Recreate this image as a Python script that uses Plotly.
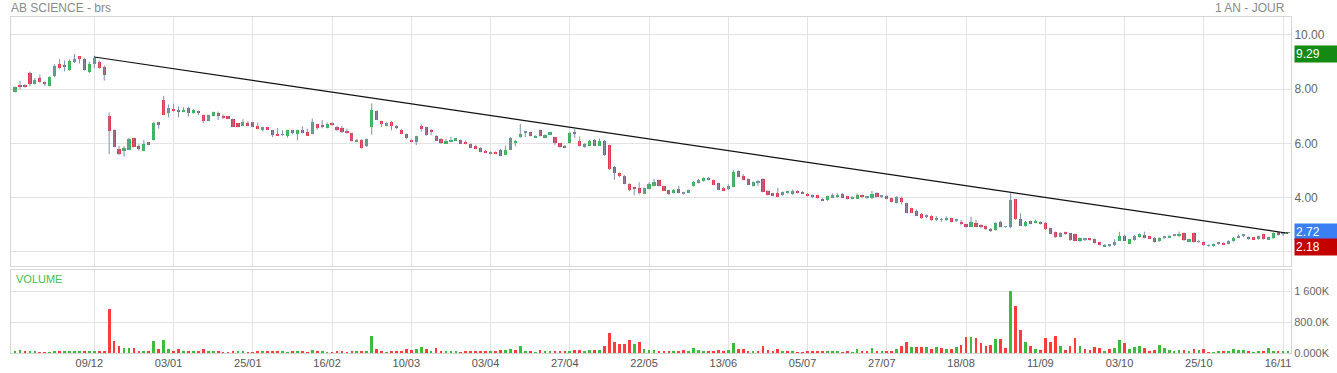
import pandas as pd
import plotly.graph_objects as go

# ---------------- data ----------------
start_date = "2022-11-17"
end_date = "2023-11-17"
market_holidays = ["2022-12-26", "2023-04-07", "2023-04-10", "2023-05-01"]
dates = [d.strftime("%Y-%m-%d") for d in pd.bdate_range(start_date, end_date)
         if d.strftime("%Y-%m-%d") not in market_holidays]

open_ = [7.89, 8.15, 8.15, 8.60, 8.19, 8.41, 8.26, 8.11, 8.47, 8.94, 8.89, 8.69, 8.99, 9.20, 9.12, 8.64, 8.94, 9.00, 8.81, 7.01,
         6.49, 5.79, 5.73, 5.77, 6.19, 5.90, 5.73, 6.05, 6.12, 6.79, 7.59, 7.11, 7.27, 7.23, 7.16, 7.31, 7.11, 7.14, 7.04, 6.84,
         7.01, 7.12, 7.02, 6.99, 6.88, 6.74, 6.65, 6.74, 6.77, 6.64, 6.50, 6.59, 6.48, 6.31, 6.31, 6.28, 6.48, 6.36, 6.48, 6.40,
         6.34, 6.70, 6.69, 6.58, 6.75, 6.60, 6.56, 6.40, 6.37, 6.07, 6.11, 5.89, 6.61, 7.19, 6.81, 6.65, 6.80, 6.59, 6.49, 6.33,
         6.12, 6.05, 6.64, 6.59, 6.51, 6.28, 6.17, 6.01, 6.05, 6.10, 6.13, 6.05, 5.99, 5.90, 5.84, 5.73, 5.61, 5.69, 5.77, 5.58,
         5.77, 6.02, 6.23, 6.40, 6.41, 6.22, 6.49, 6.20, 6.31, 6.22, 6.00, 5.92, 6.01, 6.39, 6.07, 5.86, 5.92, 6.11, 5.92, 6.10,
         5.93, 5.14, 4.90, 4.81, 4.51, 4.34, 4.37, 4.15, 4.32, 4.44, 4.64, 4.42, 4.27, 4.18, 4.32, 4.17, 4.20, 4.44, 4.54, 4.61,
         4.73, 4.64, 4.53, 4.37, 4.32, 4.41, 4.97, 4.81, 4.69, 4.42, 4.55, 4.69, 4.26, 4.16, 4.17, 4.09, 4.19, 4.12, 4.26, 4.22,
         4.15, 4.10, 4.09, 3.96, 3.90, 4.00, 4.01, 4.15, 4.05, 3.95, 3.96, 4.10, 4.01, 3.98, 4.18, 4.04, 4.07, 3.98, 3.82, 4.00,
         3.79, 3.61, 3.51, 3.41, 3.27, 3.32, 3.16, 3.18, 3.16, 3.24, 3.15, 3.11, 3.02, 2.93, 3.08, 3.00, 2.95, 2.86, 2.81, 3.10,
         2.92, 2.93, 3.94, 3.20, 2.97, 3.13, 3.08, 3.11, 3.08, 2.87, 2.73, 2.56, 2.73, 2.69, 2.66, 2.42, 2.47, 2.47, 2.47, 2.36,
         2.20, 2.25, 2.25, 2.42, 2.57, 2.31, 2.43, 2.55, 2.62, 2.57, 2.53, 2.39, 2.53, 2.53, 2.60, 2.57, 2.70, 2.39, 2.70, 2.37,
         2.37, 2.22, 2.21, 2.31, 2.34, 2.31, 2.42, 2.54, 2.60, 2.55, 2.54, 2.47, 2.65, 2.47, 2.50, 2.73, 2.69, 2.70]
high = [8.10, 8.31, 8.17, 8.64, 8.41, 8.53, 8.28, 8.47, 8.91, 9.11, 9.06, 9.09, 9.29, 9.21, 9.15, 9.01, 9.23, 9.05, 8.86, 7.14,
        6.52, 5.90, 5.90, 6.21, 6.21, 5.96, 6.12, 6.05, 6.79, 6.79, 7.75, 7.43, 7.46, 7.36, 7.33, 7.35, 7.26, 7.21, 7.06, 7.06,
        7.17, 7.17, 7.06, 7.00, 6.91, 6.75, 6.89, 6.81, 6.78, 6.77, 6.61, 6.61, 6.50, 6.56, 6.48, 6.50, 6.50, 6.50, 6.63, 6.54,
        6.91, 6.72, 6.86, 6.77, 6.77, 6.64, 6.64, 6.54, 6.39, 6.16, 6.16, 6.18, 7.47, 7.21, 6.83, 6.77, 6.82, 6.67, 6.52, 6.36,
        6.15, 6.28, 6.70, 6.61, 6.53, 6.30, 6.19, 6.16, 6.24, 6.19, 6.14, 6.11, 6.00, 5.95, 5.86, 5.75, 5.70, 5.70, 5.80, 5.92,
        6.23, 6.13, 6.71, 6.43, 6.43, 6.30, 6.51, 6.33, 6.43, 6.24, 6.01, 5.93, 6.41, 6.52, 6.25, 6.01, 6.12, 6.16, 6.18, 6.12,
        5.95, 5.17, 4.93, 4.83, 4.53, 4.36, 4.57, 4.37, 4.57, 4.69, 4.66, 4.44, 4.29, 4.32, 4.44, 4.22, 4.30, 4.61, 4.69, 4.74,
        4.76, 4.66, 4.55, 4.39, 4.49, 5.03, 5.01, 4.87, 4.71, 4.60, 4.66, 4.71, 4.28, 4.18, 4.36, 4.23, 4.26, 4.30, 4.28, 4.24,
        4.17, 4.12, 4.11, 3.98, 4.07, 4.16, 4.17, 4.17, 4.07, 4.06, 4.16, 4.12, 4.04, 4.25, 4.20, 4.09, 4.09, 4.00, 4.06, 4.04,
        3.81, 3.63, 3.57, 3.43, 3.37, 3.35, 3.32, 3.25, 3.31, 3.26, 3.19, 3.18, 3.04, 3.30, 3.19, 3.02, 2.97, 2.88, 3.10, 3.15,
        2.94, 4.16, 3.95, 3.43, 3.14, 3.15, 3.19, 3.13, 3.10, 2.89, 2.75, 2.73, 2.75, 2.71, 2.68, 2.53, 2.50, 2.49, 2.49, 2.38,
        2.29, 2.28, 2.47, 2.74, 2.63, 2.48, 2.63, 2.69, 2.75, 2.58, 2.55, 2.54, 2.59, 2.62, 2.65, 2.75, 2.72, 2.48, 2.72, 2.44,
        2.39, 2.28, 2.32, 2.36, 2.36, 2.43, 2.55, 2.64, 2.65, 2.57, 2.55, 2.60, 2.67, 2.56, 2.72, 2.75, 2.73, 2.74]
low = [7.87, 7.99, 8.05, 8.10, 8.16, 8.23, 8.11, 8.09, 8.43, 8.74, 8.65, 8.67, 8.96, 8.94, 8.68, 8.59, 8.77, 8.75, 8.31, 5.60,
       5.85, 5.57, 5.51, 5.75, 5.85, 5.73, 5.72, 5.93, 6.10, 6.54, 7.04, 6.95, 7.17, 6.96, 7.15, 6.99, 7.09, 7.04, 6.75, 6.83,
       6.99, 6.86, 6.90, 6.90, 6.60, 6.59, 6.64, 6.63, 6.60, 6.53, 6.44, 6.50, 6.23, 6.28, 6.28, 6.21, 6.33, 6.11, 6.37, 6.27,
       6.33, 6.50, 6.55, 6.55, 6.65, 6.45, 6.38, 6.36, 6.06, 6.06, 5.80, 5.86, 6.32, 6.86, 6.60, 6.63, 6.48, 6.53, 6.33, 6.15,
       6.04, 5.94, 6.43, 6.28, 6.30, 6.08, 5.98, 6.00, 6.04, 6.08, 5.97, 5.96, 5.82, 5.78, 5.67, 5.64, 5.60, 5.60, 5.53, 5.57,
       5.75, 5.89, 6.20, 6.23, 6.25, 6.20, 6.25, 6.18, 6.30, 5.93, 5.84, 5.82, 6.00, 6.20, 5.89, 5.84, 5.90, 5.89, 5.90, 5.54,
       5.02, 4.66, 4.76, 4.49, 4.23, 4.08, 4.12, 4.13, 4.30, 4.42, 4.42, 4.24, 4.10, 4.15, 4.16, 4.11, 4.18, 4.41, 4.52, 4.59,
       4.64, 4.46, 4.28, 4.24, 4.28, 4.38, 4.75, 4.64, 4.46, 4.40, 4.42, 4.20, 4.08, 4.06, 4.02, 4.07, 4.14, 4.10, 4.15, 4.13,
       4.05, 3.99, 3.97, 3.88, 3.88, 3.98, 3.99, 3.98, 3.93, 3.93, 3.95, 4.00, 3.96, 3.95, 4.02, 3.98, 3.94, 3.83, 3.79, 3.75,
       3.43, 3.43, 3.32, 3.22, 3.24, 3.15, 3.14, 3.11, 3.14, 3.09, 3.11, 2.99, 2.89, 2.91, 2.91, 2.89, 2.81, 2.73, 2.78, 2.91,
       2.90, 2.87, 3.18, 2.96, 2.93, 3.02, 3.05, 3.01, 2.81, 2.66, 2.52, 2.54, 2.63, 2.41, 2.39, 2.36, 2.41, 2.42, 2.30, 2.23,
       2.19, 2.18, 2.22, 2.41, 2.41, 2.29, 2.41, 2.53, 2.50, 2.47, 2.34, 2.37, 2.47, 2.51, 2.57, 2.55, 2.41, 2.37, 2.34, 2.34,
       2.23, 2.19, 2.19, 2.26, 2.25, 2.29, 2.38, 2.52, 2.55, 2.45, 2.45, 2.45, 2.45, 2.45, 2.48, 2.60, 2.58, 2.68]
close = [8.07, 8.10, 8.07, 8.19, 8.33, 8.26, 8.17, 8.44, 8.86, 8.77, 8.80, 9.04, 9.09, 9.14, 8.69, 8.94, 9.16, 8.77, 8.51, 6.46,
         5.86, 5.59, 5.83, 6.16, 5.88, 5.79, 5.98, 5.95, 6.74, 6.69, 7.06, 7.30, 7.20, 7.14, 7.23, 7.11, 7.23, 7.13, 6.84, 7.04,
         7.14, 7.01, 6.94, 6.91, 6.61, 6.61, 6.79, 6.65, 6.61, 6.54, 6.59, 6.52, 6.31, 6.30, 6.31, 6.48, 6.39, 6.48, 6.39, 6.28,
         6.79, 6.55, 6.59, 6.71, 6.67, 6.48, 6.40, 6.39, 6.07, 6.13, 5.83, 6.15, 7.23, 6.87, 6.70, 6.75, 6.65, 6.58, 6.36, 6.20,
         6.05, 6.26, 6.54, 6.31, 6.43, 6.10, 6.01, 6.08, 6.14, 6.18, 5.99, 5.98, 5.84, 5.81, 5.69, 5.66, 5.69, 5.61, 5.54, 5.75,
         6.20, 6.07, 6.35, 6.40, 6.27, 6.28, 6.27, 6.31, 6.42, 6.00, 5.86, 5.83, 6.39, 6.38, 5.92, 5.99, 6.10, 5.92, 6.08, 5.58,
         5.05, 4.90, 4.78, 4.52, 4.30, 4.33, 4.18, 4.35, 4.49, 4.59, 4.44, 4.26, 4.12, 4.28, 4.18, 4.17, 4.27, 4.57, 4.66, 4.71,
         4.66, 4.48, 4.30, 4.26, 4.44, 4.93, 4.77, 4.66, 4.48, 4.57, 4.55, 4.22, 4.10, 4.07, 4.04, 4.21, 4.20, 4.25, 4.17, 4.15,
         4.07, 4.01, 3.99, 3.90, 4.05, 4.11, 4.11, 4.00, 3.95, 4.04, 4.09, 4.02, 4.01, 4.14, 4.04, 4.04, 3.96, 3.85, 4.02, 3.83,
         3.45, 3.45, 3.34, 3.24, 3.35, 3.18, 3.25, 3.18, 3.25, 3.11, 3.15, 3.02, 2.91, 3.11, 2.93, 2.91, 2.83, 2.78, 3.08, 2.93,
         2.92, 3.91, 3.20, 2.97, 3.11, 3.04, 3.15, 3.03, 2.83, 2.68, 2.54, 2.71, 2.65, 2.43, 2.41, 2.50, 2.47, 2.46, 2.32, 2.25,
         2.27, 2.25, 2.37, 2.58, 2.42, 2.46, 2.59, 2.65, 2.52, 2.49, 2.36, 2.52, 2.53, 2.60, 2.60, 2.65, 2.43, 2.46, 2.36, 2.37,
         2.25, 2.22, 2.30, 2.31, 2.27, 2.41, 2.52, 2.60, 2.60, 2.47, 2.47, 2.58, 2.47, 2.54, 2.70, 2.62, 2.69, 2.72]
volume_k = [34, 86, 34, 52, 26, 17, 17, 17, 43, 34, 34, 43, 34, 26, 26, 34, 34, 43, 60, 1127,
            318, 172, 138, 120, 129, 60, 60, 43, 301, 112, 344, 112, 60, 95, 43, 43, 26, 26, 112, 43,
            43, 60, 17, 17, 43, 26, 34, 17, 9, 34, 34, 34, 34, 34, 26, 17, 26, 43, 26, 17,
            86, 34, 26, 17, 17, 26, 26, 17, 60, 26, 52, 26, 439, 112, 52, 17, 52, 34, 34, 103,
            69, 103, 163, 95, 52, 138, 34, 26, 34, 34, 17, 26, 43, 43, 60, 43, 43, 52, 77, 86,
            112, 77, 189, 43, 26, 17, 69, 26, 34, 52, 34, 34, 60, 69, 69, 52, 77, 77, 77, 181,
            516, 292, 224, 241, 335, 224, 275, 112, 69, 77, 26, 52, 60, 26, 52, 77, 34, 138, 77, 60,
            34, 34, 69, 43, 77, 267, 95, 95, 60, 34, 34, 189, 86, 60, 95, 34, 26, 52, 17, 9,
            52, 60, 60, 60, 34, 34, 26, 17, 34, 17, 95, 34, 43, 129, 52, 52, 60, 60, 95, 189,
            275, 146, 155, 146, 155, 103, 163, 129, 95, 103, 163, 215, 404, 413, 387, 267, 189, 215, 361, 353,
            120, 1608, 1221, 602, 275, 189, 95, 77, 378, 284, 430, 189, 69, 181, 378, 189, 95, 86, 155, 120,
            60, 112, 129, 327, 249, 95, 146, 181, 138, 52, 77, 206, 138, 69, 43, 86, 86, 60, 103, 86,
            103, 17, 17, 26, 34, 43, 95, 77, 77, 34, 17, 60, 26, 120, 52, 60, 26, 30]

tick_labels = ["09/12", "03/01", "25/01", "16/02", "10/03", "03/04", "27/04", "22/05",
               "13/06", "05/07", "27/07", "18/08", "11/09", "03/10", "25/10", "16/11"]
price_ticks = [2, 4, 6, 8, 10]
price_tick_text = ["", "4.00", "6.00", "8.00", "10.00"]
volume_ticks = [0, 800, 1600]
volume_tick_text = ["0.000K", "800.0K", "1 600K"]

trend_dates = ["2022-12-09", "2023-11-17"]
trend_values = [9.18, 2.69]

title_left = "AB SCIENCE - brs"
title_right = "1 AN - JOUR"

# ---------------- styling ----------------
GREEN = "#37b65b"
RED = "#e8344f"
WICK = "#7d92ab"
VGREEN = "#3cbb3c"
VRED = "#ff3b3b"
GRID = "#e3e3e3"
FONT = "Liberation Sans, Arial, sans-serif"

n = len(close)
dates = dates[:n]
date_by_label = {pd.Timestamp(d).strftime("%d/%m"): d for d in dates}
tick_vals = [date_by_label[t] for t in tick_labels]

# wicks
wx, wy = [], []
for d, h, l in zip(dates, high, low):
    wx += [d, d, None]
    wy += [l, h, None]

body_base, body_len, body_col = [], [], []
for o, c in zip(open_, close):
    body_base.append(min(o, c))
    body_len.append(max(abs(c - o), 0.03))
    if abs(c - o) < 0.005:
        body_col.append(WICK)
    else:
        body_col.append(GREEN if c > o else RED)

vol_col = []
for i in range(n):
    prev = close[i - 1] if i > 0 else open_[0]
    vol_col.append(VGREEN if close[i] >= prev else VRED)

fig = go.Figure()
fig.add_trace(go.Scatter(x=wx, y=wy, mode="lines", line=dict(color=WICK, width=1),
                         xaxis="x", yaxis="y", hoverinfo="skip", showlegend=False))
fig.add_trace(go.Bar(x=dates, y=body_len, base=body_base, marker=dict(color=body_col, line=dict(width=0)),
                     width=0.64, xaxis="x", yaxis="y", showlegend=False))
fig.add_trace(go.Scatter(x=trend_dates, y=trend_values, mode="lines", line=dict(color="#111111", width=1.2),
                         xaxis="x", yaxis="y", showlegend=False))
fig.add_trace(go.Bar(x=dates, y=volume_k, marker=dict(color=vol_col, line=dict(width=0)),
                     width=0.55, xaxis="x2", yaxis="y2", showlegend=False))

W, H = 1337, 373
ml, mr, mt, mb = 11, 46, 17, 20
ph = H - mt - mb
price_bottom = (H - mb - 266) / ph
vol_top = (H - mb - 270) / ph

xcommon = dict(type="category", categoryorder="array", categoryarray=dates,
               range=[-0.82, n - 1 + 0.6], tickmode="array", tickvals=tick_vals,
               showgrid=True, gridcolor=GRID, gridwidth=1, showline=True, linecolor="#d6d6d6",
               mirror=True, zeroline=False, ticks="", automargin=False)

fig.update_layout(
    width=W, height=H, margin=dict(l=ml, r=mr, t=mt, b=mb, autoexpand=False),
    paper_bgcolor="white", plot_bgcolor="white", barmode="overlay", bargap=0,
    font=dict(family=FONT, size=11, color="#666666"),
    xaxis=dict(**xcommon, anchor="y", domain=[0, 1], showticklabels=False),
    xaxis2=dict(**xcommon, anchor="y2", domain=[0, 1], matches="x", showticklabels=True,
                ticktext=tick_labels, tickfont=dict(size=11, color="#555555"), ticklabelshift=-5),
    yaxis=dict(domain=[price_bottom, 1], side="right", range=[1.483, 10.653],
               tickmode="array", tickvals=price_ticks, ticktext=price_tick_text,
               showgrid=True, gridcolor=GRID, showline=True, linecolor="#d6d6d6", mirror=True,
               zeroline=False, ticks="", tickfont=dict(size=12, color="#666666"), anchor="x",
               automargin=False),
    yaxis2=dict(domain=[0, vol_top], side="right", range=[0, 2146],
                tickmode="array", tickvals=volume_ticks, ticktext=volume_tick_text,
                showgrid=True, gridcolor=GRID, showline=True, linecolor="#d6d6d6", mirror=True,
                zeroline=False, ticks="", tickfont=dict(size=11, color="#666666"), anchor="x2",
                automargin=False),
)

annotations = [
    dict(text=title_left, xref="paper", yref="paper", x=0, y=1, xanchor="left", yanchor="bottom",
         xshift=-2, yshift=0, showarrow=False, font=dict(size=12, color="#8a8a8a", family=FONT)),
    dict(text=title_right, xref="paper", yref="paper", x=1, y=1, xanchor="right", yanchor="bottom",
         xshift=-4, yshift=0, showarrow=False, font=dict(size=12, color="#8a8a8a", family=FONT)),
    dict(text="VOLUME", xref="paper", yref="paper", x=0, y=vol_top, xanchor="left", yanchor="top",
         xshift=3, yshift=-1, showarrow=False, font=dict(size=11, color="#44c044", family=FONT)),
]
marks = [(max(high), "#138a13"), (close[-1], "#3b7ff5"), (min(low), "#c40000")]
for val, col in marks:
    annotations.append(dict(text=f"{val:.2f}", xref="paper", yref="y", x=1, y=val,
                            xanchor="left", yanchor="middle", xshift=3, showarrow=False,
                            bgcolor=col, width=40, height=14, align="left", borderpad=1,
                            font=dict(size=12, color="white", family=FONT)))
fig.update_layout(annotations=annotations)

fig.write_html("out.html", config={"displayModeBar": False},
               post_script="document.body.style.margin='0';document.body.style.overflow='hidden';")
